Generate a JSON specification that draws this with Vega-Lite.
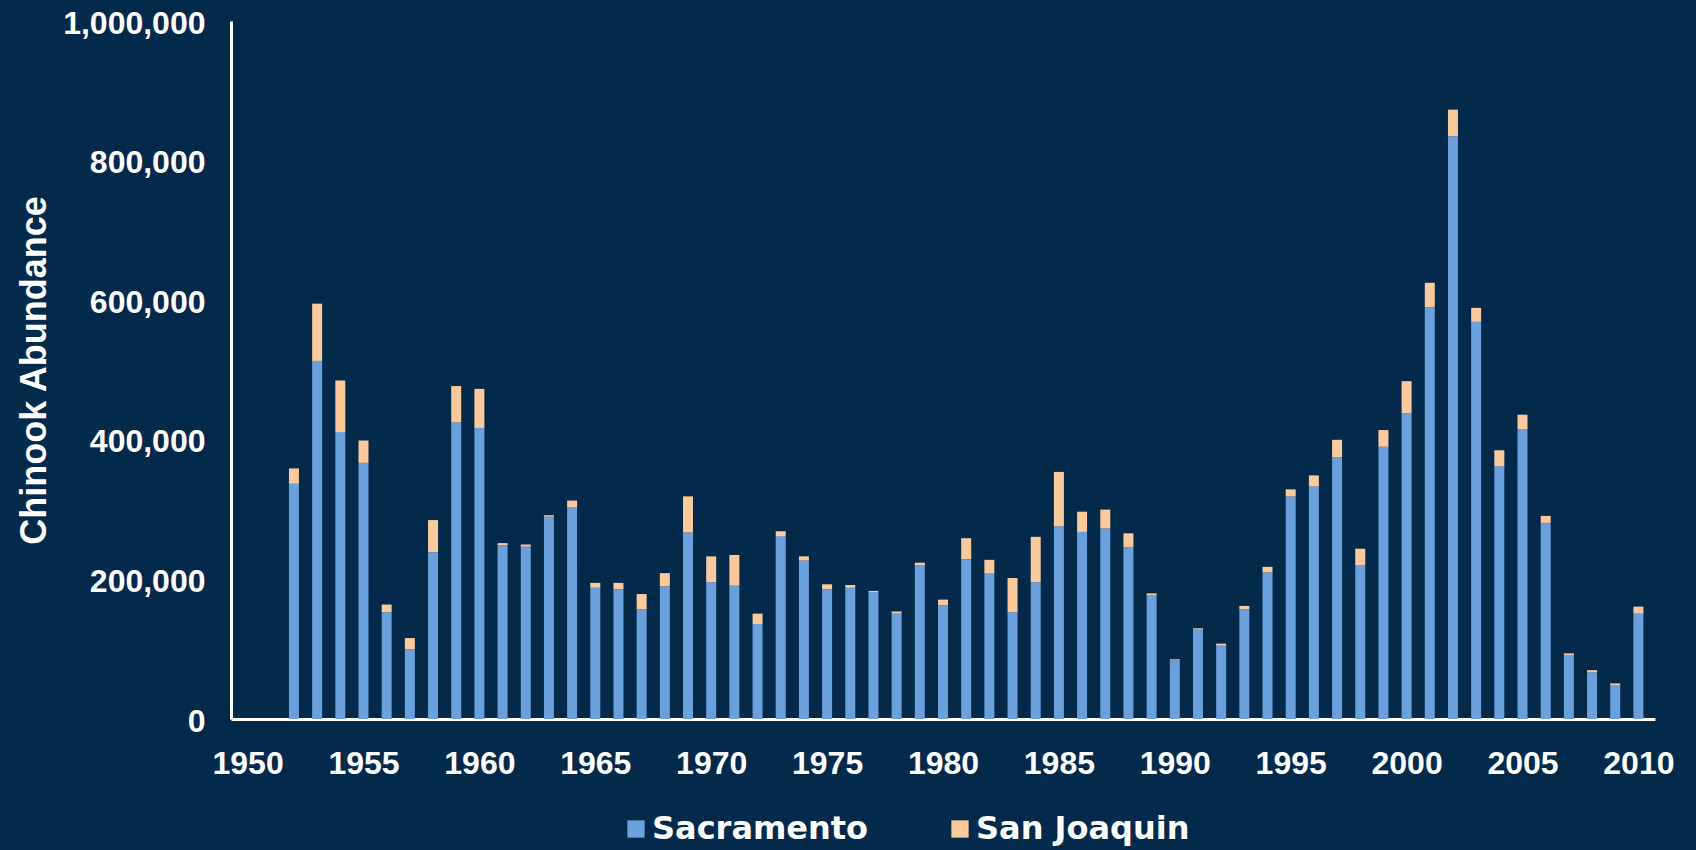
{
  "$schema": "https://vega.github.io/schema/vega-lite/v6.json",
  "autosize": "none",
  "width": 1424,
  "height": 698,
  "padding": {"left": 231, "top": 21, "right": 41, "bottom": 131},
  "background": "#03294b",
  "config": {
    "view": {"stroke": null},
    "font": "Liberation Sans"
  },
  "data": {
    "values": [
      {"year": 1952, "Sacramento": 337000, "San Joaquin": 22000},
      {"year": 1953, "Sacramento": 513000, "San Joaquin": 82000},
      {"year": 1954, "Sacramento": 411000, "San Joaquin": 74000},
      {"year": 1955, "Sacramento": 367000, "San Joaquin": 32000},
      {"year": 1956, "Sacramento": 153000, "San Joaquin": 11000},
      {"year": 1957, "Sacramento": 100000, "San Joaquin": 16000},
      {"year": 1958, "Sacramento": 239000, "San Joaquin": 46000},
      {"year": 1959, "Sacramento": 425000, "San Joaquin": 52000},
      {"year": 1960, "Sacramento": 417000, "San Joaquin": 56000},
      {"year": 1961, "Sacramento": 249000, "San Joaquin": 3000},
      {"year": 1962, "Sacramento": 247000, "San Joaquin": 3000},
      {"year": 1963, "Sacramento": 290000, "San Joaquin": 2000},
      {"year": 1964, "Sacramento": 303000, "San Joaquin": 10000},
      {"year": 1965, "Sacramento": 188000, "San Joaquin": 7000},
      {"year": 1966, "Sacramento": 186000, "San Joaquin": 9000},
      {"year": 1967, "Sacramento": 157000, "San Joaquin": 22000},
      {"year": 1968, "Sacramento": 190000, "San Joaquin": 19000},
      {"year": 1969, "Sacramento": 267000, "San Joaquin": 52000},
      {"year": 1970, "Sacramento": 196000, "San Joaquin": 37000},
      {"year": 1971, "Sacramento": 191000, "San Joaquin": 44000},
      {"year": 1972, "Sacramento": 136000, "San Joaquin": 15000},
      {"year": 1973, "Sacramento": 262000, "San Joaquin": 7000},
      {"year": 1974, "Sacramento": 227000, "San Joaquin": 6000},
      {"year": 1975, "Sacramento": 186000, "San Joaquin": 7000},
      {"year": 1976, "Sacramento": 188000, "San Joaquin": 4000},
      {"year": 1977, "Sacramento": 182000, "San Joaquin": 1500},
      {"year": 1978, "Sacramento": 151000, "San Joaquin": 3000},
      {"year": 1979, "Sacramento": 220000, "San Joaquin": 4000},
      {"year": 1980, "Sacramento": 163000, "San Joaquin": 8000},
      {"year": 1981, "Sacramento": 229000, "San Joaquin": 30000},
      {"year": 1982, "Sacramento": 209000, "San Joaquin": 19000},
      {"year": 1983, "Sacramento": 153000, "San Joaquin": 49000},
      {"year": 1984, "Sacramento": 196000, "San Joaquin": 65000},
      {"year": 1985, "Sacramento": 276000, "San Joaquin": 78000},
      {"year": 1986, "Sacramento": 268000, "San Joaquin": 29000},
      {"year": 1987, "Sacramento": 273000, "San Joaquin": 27000},
      {"year": 1988, "Sacramento": 246000, "San Joaquin": 20000},
      {"year": 1989, "Sacramento": 177000, "San Joaquin": 3000},
      {"year": 1990, "Sacramento": 84000, "San Joaquin": 1500},
      {"year": 1991, "Sacramento": 128000, "San Joaquin": 2000},
      {"year": 1992, "Sacramento": 105000, "San Joaquin": 3000},
      {"year": 1993, "Sacramento": 157000, "San Joaquin": 5000},
      {"year": 1994, "Sacramento": 210000, "San Joaquin": 8000},
      {"year": 1995, "Sacramento": 319000, "San Joaquin": 10000},
      {"year": 1996, "Sacramento": 333000, "San Joaquin": 16000},
      {"year": 1997, "Sacramento": 375000, "San Joaquin": 25000},
      {"year": 1998, "Sacramento": 220000, "San Joaquin": 24000},
      {"year": 1999, "Sacramento": 390000, "San Joaquin": 24000},
      {"year": 2000, "Sacramento": 438000, "San Joaquin": 46000},
      {"year": 2001, "Sacramento": 590000, "San Joaquin": 35000},
      {"year": 2002, "Sacramento": 835000, "San Joaquin": 38000},
      {"year": 2003, "Sacramento": 569000, "San Joaquin": 20000},
      {"year": 2004, "Sacramento": 362000, "San Joaquin": 23000},
      {"year": 2005, "Sacramento": 415000, "San Joaquin": 21000},
      {"year": 2006, "Sacramento": 281000, "San Joaquin": 10000},
      {"year": 2007, "Sacramento": 91000, "San Joaquin": 3000},
      {"year": 2008, "Sacramento": 67000, "San Joaquin": 3000},
      {"year": 2009, "Sacramento": 48000, "San Joaquin": 3000},
      {"year": 2010, "Sacramento": 151000, "San Joaquin": 10000}
    ]
  },
  "transform": [
    {"fold": ["Sacramento", "San Joaquin"], "as": ["river", "count"]}
  ],
  "mark": {"type": "bar", "size": 10},
  "encoding": {
    "x": {
      "field": "year",
      "type": "quantitative",
      "scale": {"domain": [1949.5, 2010.5], "nice": false, "zero": false},
      "axis": {
        "title": null,
        "values": [1950, 1955, 1960, 1965, 1970, 1975, 1980, 1985, 1990, 1995, 2000, 2005, 2010],
        "format": "d",
        "grid": false,
        "ticks": false,
        "labelPadding": 29,
        "labelFontSize": 32,
        "labelFontWeight": "bold",
        "labelColor": "#ffffff",
        "labelFont": "Liberation Sans",
        "domainColor": "#ffffff",
        "domainWidth": 3,
        "labelFlush": false,
        "labelOverlap": false
      }
    },
    "y": {
      "field": "count",
      "type": "quantitative",
      "stack": "zero",
      "scale": {"domain": [0, 1000000], "nice": false},
      "axis": {
        "title": "Chinook Abundance",
        "values": [0, 200000, 400000, 600000, 800000, 1000000],
        "format": ",.0f",
        "grid": false,
        "ticks": false,
        "labelPadding": 26,
        "labelFontSize": 32,
        "labelFontWeight": "bold",
        "labelColor": "#ffffff",
        "labelFont": "Liberation Sans",
        "labelOffset": 2,
        "labelFlush": false,
        "labelOverlap": false,
        "domainColor": "#ffffff",
        "domainWidth": 3,
        "titleFont": "Liberation Sans",
        "titleFontSize": 36,
        "titleFontWeight": "bold",
        "titleColor": "#ffffff",
        "titleAngle": -90,
        "titleBaseline": "alphabetic",
        "titleAlign": "center",
        "titleX": -186,
        "titleY": 349
      }
    },
    "color": {
      "field": "river",
      "type": "nominal",
      "scale": {"domain": ["Sacramento", "San Joaquin"], "range": ["#6aa0dc", "#fcc99d"]},
      "legend": {
        "title": null,
        "orient": "none",
        "direction": "horizontal",
        "legendX": 389,
        "legendY": 792,
        "symbolType": "square",
        "symbolSize": 300,
        "symbolStrokeWidth": 0,
        "symbolOpacity": 1,
        "labelFont": "DejaVu Sans",
        "labelFontSize": 32,
        "labelFontWeight": "bold",
        "labelColor": "#ffffff",
        "labelOffset": 0,
        "labelLimit": 400,
        "columnPadding": 75
      }
    },
    "order": {"field": "river", "sort": "ascending"}
  }
}
